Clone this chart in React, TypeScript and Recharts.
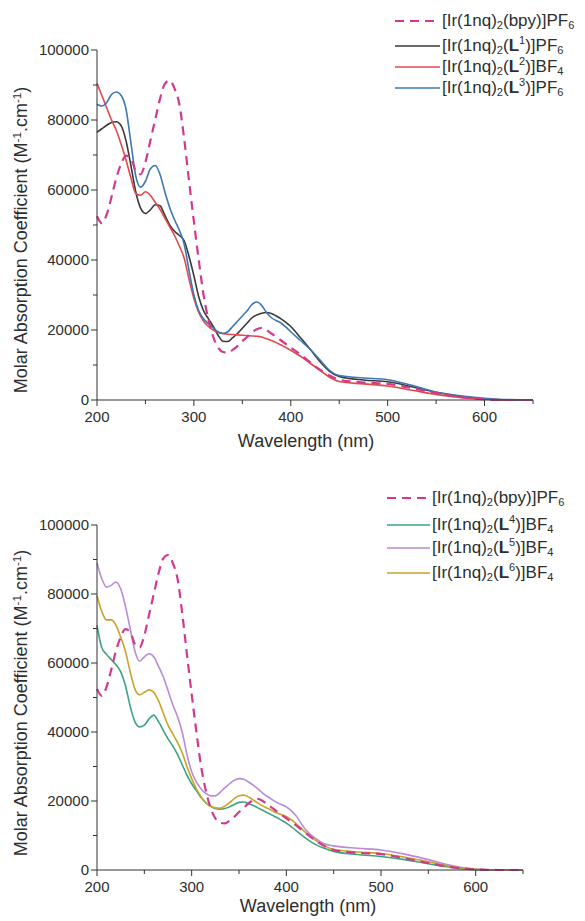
import React from 'react';
import { LineChart, Line, XAxis, YAxis } from 'recharts';

// Wavelength grid (nm)
const wavelengths = [
  200, 205, 210, 215, 220, 225, 230, 235, 240, 245, 250, 255, 260, 265, 270, 275, 280, 285, 290, 295,
  300, 305, 310, 315, 320, 325, 330, 335, 340, 345, 350, 355, 360, 365, 370, 375, 380, 385, 390, 395, 400,
  410, 420, 430, 440, 450,
  475, 500, 525, 550, 575, 600, 625, 650,
];

// [Ir(1nq)2(bpy)]PF6 (reference, shown in both panels)
const bpy = [
  52500, 50500, 53000, 58000, 63500, 67500, 69800, 69000, 65500, 64500, 68000, 74000, 80000, 86000, 90300, 91300, 89000, 84500, 74500, 62500,
  51000, 40000, 30000, 23000, 18000, 15000, 13700, 13500, 14300, 15400, 16800, 18000, 19300, 20200, 20600, 20000, 19000, 18000, 17000, 16000, 15000,
  13000, 10800, 8700, 7000, 5800,
  5000, 4600, 3400, 2000, 800, 200, 0, 0,
];

const L1 = [
  76500, 77500, 78500, 79300, 79500, 78300, 74000, 67000, 59500, 54800, 53300, 54300, 55800, 55500, 52800, 50000, 48200, 47000, 45500, 41000,
  35500, 29500, 25500, 23200, 21000, 18500, 16800, 16700, 17800, 19000, 20500, 22000, 23500, 24300, 24800, 25000, 24700, 24000, 23200, 22200, 21000,
  17800, 14500, 11000, 8200, 6700,
  5700, 5200, 3800, 2200, 1000, 300, 50, 0,
];

const L2 = [
  90500, 87000, 83500, 80000, 77000, 73000, 68500, 63500, 59000, 58500, 59500, 58500, 56500, 54500, 52000, 49500, 47000, 44000, 40500, 34500,
  29000, 25000, 22500, 21000, 20000, 19300, 19000, 18800, 18700, 18600, 18500, 18400, 18300, 18200, 18000, 17500, 17000, 16400, 15700, 15000, 14200,
  12500, 10500, 8500, 6500, 5300,
  4600, 4000, 2800, 1600, 700, 200, 0, 0,
];

const L3 = [
  84500, 84000, 85000, 87300, 88000, 87000, 83000, 73500, 64000, 60800, 62500, 66000, 67000, 64500, 59500, 55000, 51500, 48500, 44500, 37000,
  30000, 25500, 23200, 21800, 20600, 19500, 19000, 19500, 21000, 22500, 24000, 25500, 27300, 28000, 27000, 25000, 23500, 22700, 22000, 20800, 19500,
  17000, 14500, 11500, 8500, 7000,
  6300, 5800, 4200, 2300, 1200, 500, 100, 0,
];

const L4 = [
  71000, 64500, 62500, 61000, 59500, 57500, 53500, 47500, 43000, 41500, 42000, 43800, 44900, 43000, 40500, 38000, 36000, 33500, 30500, 27500,
  25000, 23000, 21000, 19500, 18500, 17800, 17600, 17800, 18300, 19000, 19600, 19700, 19200, 18700, 18000, 17300, 16600, 15900, 15200, 14400, 13600,
  11500, 9300, 7500, 6300, 5400,
  4500, 3900, 3000, 1800, 700, 100, 0, 0,
];

const L5 = [
  89000, 84500, 82000, 82500, 83500, 81500, 76500, 70000, 63500, 60500, 61800, 62700, 61800, 59000, 56000, 52000, 48000, 44500, 40000, 33500,
  28500, 25500, 23500, 22200, 21500, 21500, 22500, 23800, 25000, 26000, 26500, 26300, 25500, 24600, 23500, 22300, 21300, 20400, 19600, 18900, 18300,
  15800, 11800, 9300, 7600, 7000,
  6300, 5800, 4600, 3000, 1300, 200, 0, 0,
];

const L6 = [
  79500, 75000, 72500, 72500, 71000, 67500, 63500, 57500, 52500, 50800, 51500, 52200, 51500, 49000, 45500, 42000, 39500, 37000, 34000, 30000,
  26500, 23500, 21200, 19500, 18500, 18000, 17900, 18500, 19500, 20700, 21500, 21700, 21200, 20300, 19400, 18600, 17900, 17200, 16500, 16000, 15500,
  13500, 11000, 8800, 7000, 6000,
  5200, 4800, 3700, 2400, 1000, 200, 0, 0,
];

const xTicks = [200, 250, 300, 350, 400, 450, 500, 550, 600, 650];
const yTicks = [0, 10000, 20000, 30000, 40000, 50000, 60000, 70000, 80000, 90000, 100000];

const topKeys = ['bpy', 'L1', 'L2', 'L3'];
const bottomKeys = ['bpy', 'L4', 'L5', 'L6'];
const ligands: Record<string, string> = { bpy: 'bpy', L1: '1', L2: '2', L3: '3', L4: '4', L5: '5', L6: '6' };
const anions: Record<string, [string, string]> = {
  bpy: ['PF', '6'], L1: ['PF', '6'], L2: ['BF', '4'], L3: ['PF', '6'], L4: ['BF', '4'], L5: ['BF', '4'], L6: ['BF', '4'],
};
const colors: Record<string, string> = {
  bpy: '#d2398c', L1: '#3a3a3a', L2: '#e2484c', L3: '#3d78b4', L4: '#3aa57c', L5: '#b88ad8', L6: '#c9a22a',
};

const topRows = wavelengths.map((w, i) => ({ w, bpy: bpy[i], L1: L1[i], L2: L2[i], L3: L3[i] }));
const bottomRows = wavelengths.map((w, i) => ({ w, bpy: bpy[i], L4: L4[i], L5: L5[i], L6: L6[i] }));

const FONT = '"Liberation Sans", Arial, sans-serif';
const TEXT = '#2e2e2e';
const AXIS = '#333333';

const XTick = (props: any) => {
  const { x, y, payload } = props;
  const v = payload.value;
  const major = v % 100 === 0;
  return (
    <g>
      <line x1={x} x2={x} y1={y} y2={y + (major ? 6 : 4)} stroke={AXIS} strokeWidth={1} />
      {major && (
        <text x={x} y={y + 22} textAnchor="middle" fontSize={15} fill={TEXT} fontFamily={FONT}>
          {v}
        </text>
      )}
    </g>
  );
};

const YTick = (props: any) => {
  const { x, y, payload } = props;
  const v = payload.value;
  const major = v % 20000 === 0;
  return (
    <g>
      <line x1={x - (major ? 6 : 4)} x2={x} y1={y} y2={y} stroke={AXIS} strokeWidth={1} />
      {major && (
        <text x={x - 8} y={y + 5} textAnchor="end" fontSize={15} fill={TEXT} fontFamily={FONT}>
          {v}
        </text>
      )}
    </g>
  );
};

const subStyle: React.CSSProperties = { fontSize: '0.65em', position: 'relative', top: '0.35em' };
const supStyle: React.CSSProperties = { fontSize: '0.65em', position: 'relative', top: '-0.55em' };

const Label = ({ k }: { k: string }) => {
  const lig = ligands[k];
  const [an, n] = anions[k];
  return (
    <span>
      [Ir(1nq)<span style={subStyle}>2</span>(
      {k === 'bpy' ? (
        'bpy'
      ) : (
        <>
          <b>L</b>
          <span style={supStyle}>{lig}</span>
        </>
      )}
      )]{an}
      <span style={subStyle}>{n}</span>
    </span>
  );
};

const Legend = ({ keys, left, tops, lineW }: { keys: string[]; left: number; tops: number[]; lineW: number }) => (
  <>
    {keys.map((k, i) => (
      <div
        key={k}
        style={{
          position: 'absolute', left, top: tops[i] - 11, height: 22, display: 'flex', alignItems: 'center',
          fontFamily: FONT, fontSize: 17, color: TEXT, whiteSpace: 'nowrap', lineHeight: '22px',
        }}
      >
        <svg width={lineW} height={6} style={{ marginRight: 2 }}>
          <line x1={0} x2={lineW} y1={3} y2={3} stroke={colors[k]} strokeWidth={k === 'bpy' ? 2 : 1.5}
            strokeDasharray={k === 'bpy' ? '9 6' : undefined} />
        </svg>
        <Label k={k} />
      </div>
    ))}
  </>
);

const YTitle = ({ cx, cy }: { cx: number; cy: number }) => (
  <div
    style={{
      position: 'absolute', left: cx, top: cy, transform: 'translate(-50%, -50%) rotate(-90deg)',
      fontFamily: FONT, fontSize: 18, color: TEXT, whiteSpace: 'nowrap', lineHeight: '20px',
    }}
  >
    Molar Absorption Coefficient (M<span style={supStyle}>-1</span>.cm<span style={supStyle}>-1</span>)
  </div>
);

const XTitle = ({ cx, cy }: { cx: number; cy: number }) => (
  <div
    style={{
      position: 'absolute', left: cx, top: cy, transform: 'translate(-50%, -50%)',
      fontFamily: FONT, fontSize: 18, color: TEXT, whiteSpace: 'nowrap', lineHeight: '20px',
    }}
  >
    Wavelength (nm)
  </div>
);

const Panel = ({ rows, keys, height, margin }: { rows: any[]; keys: string[]; height: number; margin: any }) => (
  <LineChart width={585} height={height} data={rows} margin={margin}>
    <XAxis
      dataKey="w" type="number" domain={[200, 650]} ticks={xTicks} interval={0} tick={XTick}
      tickLine={false} tickSize={0} tickMargin={0} height={30} axisLine={{ stroke: AXIS, strokeWidth: 1 }}
    />
    <YAxis
      type="number" domain={[0, 100000]} ticks={yTicks} interval={0} tick={YTick}
      tickLine={false} tickSize={0} tickMargin={0} width={60} axisLine={{ stroke: AXIS, strokeWidth: 1 }}
    />
    {keys.filter((k) => k !== 'bpy').map((k) => (
      <Line key={k} type="monotone" dataKey={k} stroke={colors[k]} strokeWidth={1.6} dot={false} isAnimationActive={false} />
    ))}
    <Line type="monotone" dataKey="bpy" stroke={colors.bpy} strokeWidth={2.2} strokeDasharray="9 6" dot={false} isAnimationActive={false} />
  </LineChart>
);

export default function App() {
  return (
    <div style={{ position: 'absolute', left: 0, top: 0, width: 585, height: 921, background: '#fff', overflow: 'hidden' }}>
      <div style={{ position: 'absolute', left: 0, top: 0 }}>
        <Panel rows={topRows} keys={topKeys} height={460} margin={{ top: 50, right: 52, left: 37, bottom: 30 }} />
      </div>
      <div style={{ position: 'absolute', left: 0, top: 470 }}>
        <Panel rows={bottomRows} keys={bottomKeys} height={451} margin={{ top: 55, right: 62, left: 37, bottom: 21 }} />
      </div>
      <Legend keys={topKeys} left={395} tops={[21, 46, 67, 88]} lineW={45} />
      <Legend keys={bottomKeys} left={387} tops={[498, 525, 548, 573]} lineW={43} />
      <YTitle cx={22} cy={240} />
      <YTitle cx={22} cy={703} />
      <XTitle cx={306} cy={441} />
      <XTitle cx={308} cy={906} />
    </div>
  );
}
